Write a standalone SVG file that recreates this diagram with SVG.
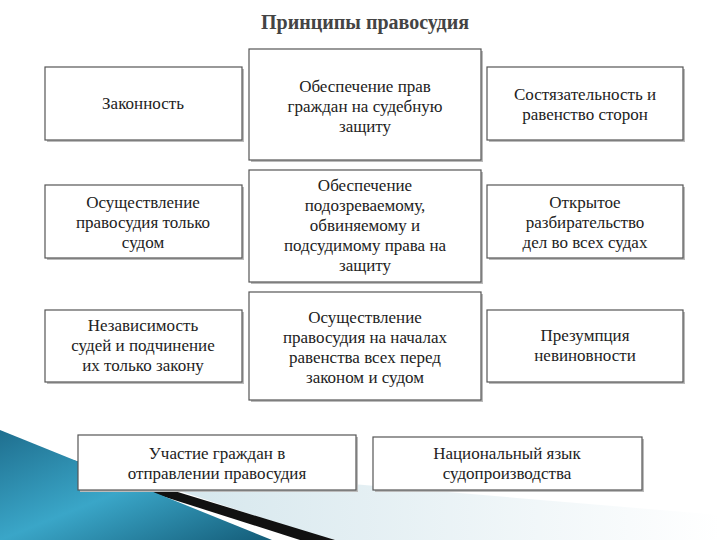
<svg xmlns="http://www.w3.org/2000/svg" width="720" height="540" viewBox="0 0 720 540" font-family="'Liberation Serif', 'DejaVu Serif', serif">
<defs>
<linearGradient id="teal" x1="0" y1="0" x2="1" y2="1">
<stop offset="0" stop-color="#1f6f8f"/><stop offset="0.5" stop-color="#3aa6c8"/><stop offset="1" stop-color="#145c78"/>
</linearGradient>
<linearGradient id="pale" x1="0" y1="0" x2="1" y2="0">
<stop offset="0" stop-color="#cfe3ea"/><stop offset="1" stop-color="#ffffff"/>
</linearGradient>
</defs>
<style>
.b{fill:#fff;stroke:#555;stroke-width:1.2}
.s{fill:#bbb}
text{font-family:'Liberation Serif','DejaVu Serif',serif;font-size:17px;fill:#222;text-anchor:middle}
.t{font-size:20px;font-weight:bold;fill:#444}
</style>
<rect width="720" height="540" fill="#fff"/>
<polygon points="90,462 720,515 720,540 330,540" fill="url(#pale)"/>
<polygon points="40,450 335,540 300,540 30,454" fill="#111"/>
<polygon points="0,430 272,540 0,540" fill="url(#teal)"/>
<text class="t" x="365" y="29">Принципы правосудия</text>
<g id="n1"><rect class="s" x="47" y="69" width="197" height="73"/><rect class="b" x="45" y="67" width="197" height="73"/><text x="143" y="109">Законность</text></g>
<g id="n2"><rect class="s" x="251" y="51" width="232" height="111"/><rect class="b" x="249" y="49" width="232" height="111"/><text x="365" y="92">Обеспечение прав</text><text x="365" y="112">граждан на судебную</text><text x="365" y="132">защиту</text></g>
<g id="n3"><rect class="s" x="489" y="69" width="196" height="73"/><rect class="b" x="487" y="67" width="196" height="73"/><text x="585" y="100">Состязательность и</text><text x="585" y="120">равенство сторон</text></g>
<g id="n4"><rect class="s" x="47" y="187" width="197" height="73"/><rect class="b" x="45" y="185" width="197" height="73"/><text x="143" y="208">Осуществление</text><text x="143" y="228">правосудия только</text><text x="143" y="248">судом</text></g>
<g id="n5"><rect class="s" x="251" y="172" width="232" height="112"/><rect class="b" x="249" y="170" width="232" height="112"/><text x="365" y="191">Обеспечение</text><text x="365" y="211">подозреваемому,</text><text x="365" y="231">обвиняемому и</text><text x="365" y="251">подсудимому права на</text><text x="365" y="271">защиту</text></g>
<g id="n6"><rect class="s" x="489" y="187" width="196" height="73"/><rect class="b" x="487" y="185" width="196" height="73"/><text x="585" y="208">Открытое</text><text x="585" y="228">разбирательство</text><text x="585" y="248">дел во всех судах</text></g>
<g id="n7"><rect class="s" x="47" y="312" width="197" height="72"/><rect class="b" x="45" y="310" width="197" height="72"/><text x="143" y="331">Независимость</text><text x="143" y="351">судей и подчинение</text><text x="143" y="371">их только закону</text></g>
<g id="n8"><rect class="s" x="251" y="294" width="232" height="108"/><rect class="b" x="249" y="292" width="232" height="108"/><text x="365" y="323">Осуществление</text><text x="365" y="343">правосудия на началах</text><text x="365" y="363">равенства всех перед</text><text x="365" y="383">законом и судом</text></g>
<g id="n9"><rect class="s" x="489" y="312" width="196" height="72"/><rect class="b" x="487" y="310" width="196" height="72"/><text x="585" y="341">Презумпция</text><text x="585" y="361">невиновности</text></g>
<g id="n10"><rect class="s" x="80" y="437" width="278" height="55"/><rect class="b" x="78" y="435" width="278" height="55"/><text x="217" y="459">Участие граждан в</text><text x="217" y="479">отправлении правосудия</text></g>
<g id="n11"><rect class="s" x="375" y="439" width="269" height="53"/><rect class="b" x="373" y="437" width="269" height="53"/><text x="507" y="459">Национальный язык</text><text x="507" y="479">судопроизводства</text></g>
<g id="connectors"></g>
</svg>
